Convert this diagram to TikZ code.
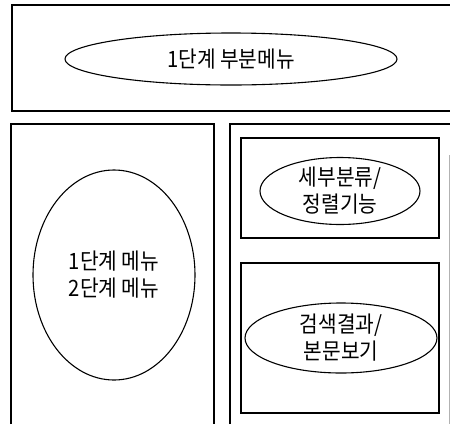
\documentclass[tikz,border=0pt]{standalone}
\usepackage{fontspec}
\setmainfont{Noto Sans CJK KR}[FakeStretch=0.9]
\usetikzlibrary{shapes.geometric}
\begin{document}
\begin{tikzpicture}[x=1pt,y=-1pt,line width=1.1pt,
  oval/.style={ellipse,draw,inner sep=0pt,align=center,font=\fontsize{22.5}{27}\selectfont},
  box/.style={draw,rectangle,inner sep=0pt}]
\useasboundingbox (0,0) rectangle (450,424);
% outer frames
\coordinate (t1) at (450,5);
\coordinate (t2) at (12,5);
\coordinate (t3) at (12,111);
\coordinate (t4) at (450,111);
\draw (t1) -- (t2) -- (t3) -- (t4);
\coordinate (l1) at (11,424);
\coordinate (l2) at (11,124);
\coordinate (l3) at (214,124);
\coordinate (l4) at (214,424);
\draw (l1) -- (l2) -- (l3) -- (l4);
\coordinate (r1) at (230,424);
\coordinate (r2) at (230,124);
\coordinate (r3) at (450,124);
\draw (r1) -- (r2) -- (r3);
\coordinate (r4) at (449,155);
\coordinate (r5) at (449,424);
\draw[gray!60,line width=0.8pt] (r4) -- (r5);
% inner boxes
\node[box,minimum width=198pt,minimum height=100pt] (b1) at (340,188) {};
\node[box,minimum width=198pt,minimum height=150pt] (b2) at (340,338) {};
% ellipses
\node[oval,minimum width=332pt,minimum height=52pt] (e0) at (231,59) {1단계 부분메뉴};
\node[oval,minimum width=162pt,minimum height=210pt] (e1) at (114,275) {1단계 메뉴\\2단계 메뉴};
\node[oval,minimum width=160pt,minimum height=58pt] (e2) at (340,191) {세부분류/\\정렬기능};
\node[oval,minimum width=192pt,minimum height=70pt] (e3) at (341,338) {검색결과/\\본문보기};
\end{tikzpicture}
\end{document}
